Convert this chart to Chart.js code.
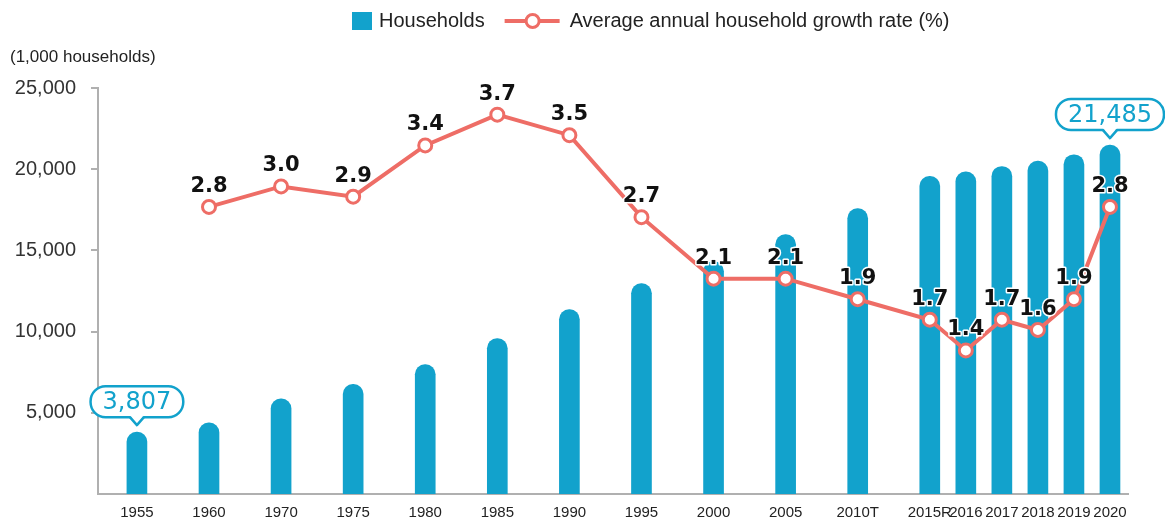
<!DOCTYPE html>
<html>
<head>
<meta charset="utf-8">
<script src="https://cdn.jsdelivr.net/npm/chart.js@4.4.1/dist/chart.umd.min.js"></script>
<style>
  html, body { margin: 0; padding: 0; background: #fff; }
  #wrap { width: 1165px; height: 521px; position: relative; }
</style>
</head>
<body>
<div id="wrap"><canvas id="chart"></canvas></div>
<script>
// Datos del gráfico
const years = ['1955', '1960', '1970', '1975', '1980', '1985', '1990', '1995', '2000', '2005', '2010T', '2015R', '2016', '2017', '2018', '2019', '2020'];
const households = [3807, 4379, 5857, 6754, 7969, 9571, 11355, 12958, 14312, 15971, 17574, 19561, 19838, 20168, 20500, 20891, 21485];
const growthRate = [null, 2.8, 3.0, 2.9, 3.4, 3.7, 3.5, 2.7, 2.1, 2.1, 1.9, 1.7, 1.4, 1.7, 1.6, 1.9, 2.8];
const yTicks = [5000, 10000, 15000, 20000, 25000];
const calloutIdx = [0, years.length - 1];

const BLUE = '#12a2cc';
const RED = '#ee6d66';

// Los años hasta 2010T van cada dos huecos, después uno por año
const firstAnnual = years.indexOf('2015R');
const slot = years.map((_, i) => i < firstAnnual ? i * 2 : firstAnnual * 2 + (i - firstAnnual));

const barData = households.map((v, i) => ({ x: slot[i], y: v }));
const lineData = growthRate.map((v, i) => ({ x: slot[i], y: v })).filter(p => p.y !== null);

// Leyenda, título del eje, etiquetas y globos
const extras = {
  id: 'extras',
  afterDatasetsDraw(chart) {
    const ctx = chart.ctx;
    ctx.save();

    // etiquetas de la línea
    const lineMeta = chart.getDatasetMeta(1);
    ctx.font = 'bold 21px "DejaVu Sans"';
    ctx.textAlign = 'center';
    ctx.textBaseline = 'alphabetic';
    ctx.lineJoin = 'round';
    lineMeta.data.forEach((pt, i) => {
      const txt = lineData[i].y.toFixed(1);
      ctx.strokeStyle = '#fff';
      ctx.lineWidth = 3;
      ctx.strokeText(txt, pt.x, pt.y - 15);
      ctx.fillStyle = '#111';
      ctx.fillText(txt, pt.x, pt.y - 15);
    });

    // globos del primer y último valor
    const barMeta = chart.getDatasetMeta(0);
    ctx.font = '24px "DejaVu Sans"';
    calloutIdx.forEach(i => {
      const bar = barMeta.data[i];
      const txt = households[i].toLocaleString('en-US');
      const w = ctx.measureText(txt).width + 24;
      const h = 31;
      const bottom = bar.y - 15;
      const top = bottom - h;
      const tipY = bar.y - 7;
      ctx.beginPath();
      ctx.roundRect(bar.x - w / 2, top, w, h, 15);
      ctx.fillStyle = '#fff';
      ctx.fill();
      ctx.strokeStyle = BLUE;
      ctx.lineWidth = 2.5;
      ctx.stroke();
      // pico
      ctx.beginPath();
      ctx.moveTo(bar.x - 7, bottom - 2);
      ctx.lineTo(bar.x + 7, bottom - 2);
      ctx.lineTo(bar.x, tipY);
      ctx.closePath();
      ctx.fill();
      ctx.beginPath();
      ctx.moveTo(bar.x - 7, bottom);
      ctx.lineTo(bar.x, tipY);
      ctx.lineTo(bar.x + 7, bottom);
      ctx.stroke();
      ctx.fillStyle = BLUE;
      ctx.textBaseline = 'middle';
      ctx.fillText(txt, bar.x, top + h / 2 + 1);
    });

    // título del eje Y
    ctx.font = '17px "Liberation Sans"';
    ctx.fillStyle = '#222';
    ctx.textAlign = 'left';
    ctx.textBaseline = 'middle';
    ctx.fillText('(1,000 households)', 10, 57);

    // leyenda
    ctx.font = '20px "Liberation Sans"';
    let x = 352;
    const y = 21;
    ctx.fillStyle = BLUE;
    ctx.fillRect(x, y - 9, 20, 18);
    x += 27;
    ctx.fillStyle = '#222';
    ctx.fillText(chart.data.datasets[0].label, x, y);
    x += ctx.measureText(chart.data.datasets[0].label).width + 20;
    ctx.strokeStyle = RED;
    ctx.lineWidth = 4;
    ctx.beginPath();
    ctx.moveTo(x, y);
    ctx.lineTo(x + 55, y);
    ctx.stroke();
    ctx.beginPath();
    ctx.arc(x + 28, y, 6.5, 0, Math.PI * 2);
    ctx.fillStyle = '#fff';
    ctx.fill();
    ctx.lineWidth = 3;
    ctx.stroke();
    x += 65;
    ctx.fillStyle = '#222';
    ctx.fillText(chart.data.datasets[1].label, x, y);

    ctx.restore();
  }
};

const chart = new Chart(document.getElementById('chart'), {
  data: {
    datasets: [
      {
        type: 'bar',
        label: 'Households',
        data: barData,
        backgroundColor: BLUE,
        barThickness: 20,
        borderRadius: { topLeft: 10, topRight: 10, bottomLeft: 0, bottomRight: 0 },
        borderSkipped: 'bottom',
        yAxisID: 'y',
        order: 2
      },
      {
        type: 'line',
        label: 'Average annual household growth rate (%)',
        data: lineData,
        borderColor: RED,
        borderWidth: 4,
        pointRadius: 6.5,
        pointBorderWidth: 3,
        pointBackgroundColor: '#fff',
        pointBorderColor: RED,
        tension: 0,
        yAxisID: 'y2',
        order: 1
      }
    ]
  },
  plugins: [extras],
  options: {
    responsive: true,
    maintainAspectRatio: false,
    animation: false,
    layout: { padding: { top: 88, right: 37, bottom: 0, left: 0 } },
    plugins: {
      legend: { display: false },
      tooltip: { enabled: false }
    },
    scales: {
      x: {
        type: 'linear',
        offset: false,
        min: -1.08,
        max: slot[slot.length - 1] + 0.5,
        afterFit: (scale) => { scale.height = 26; },
        grid: { display: false, drawTicks: false },
        border: { color: '#b0b0b0', width: 2 },
        afterBuildTicks: (scale) => { scale.ticks = slot.map(v => ({ value: v })); },
        ticks: {
          autoSkip: false,
          maxRotation: 0,
          padding: 10,
          color: '#222',
          font: { family: 'Liberation Sans', size: 15 },
          callback: (v) => years[slot.indexOf(v)]
        }
      },
      y: {
        min: 0,
        max: 25000,
        afterFit: (scale) => { scale.width = 98; },
        afterBuildTicks: (scale) => { scale.ticks = yTicks.map(v => ({ value: v })); },
        grid: { drawOnChartArea: false, drawTicks: true, tickLength: 7, color: '#b0b0b0', lineWidth: 2 },
        border: { color: '#b0b0b0', width: 2 },
        ticks: {
          padding: 15,
          color: '#333',
          font: { family: 'Liberation Sans', size: 20 },
          callback: (v) => v.toLocaleString('en-US')
        }
      },
      y2: {
        display: false,
        min: 0,
        max: 3.96
      }
    }
  }
});
</script>
</body>
</html>
